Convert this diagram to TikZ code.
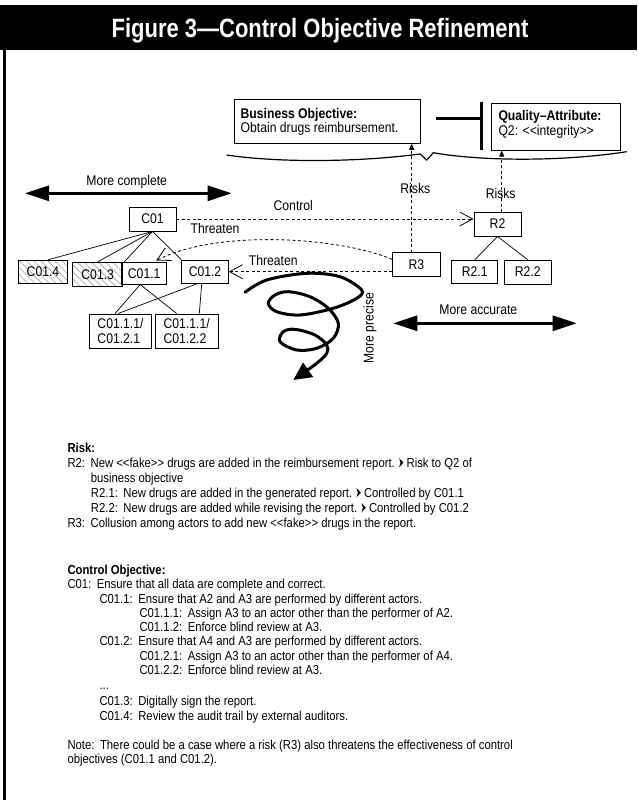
\documentclass[tikz,border=0pt]{standalone}
\usepackage{fontspec}
\setmainfont{Liberation Sans}[FakeStretch=0.87]
\newfontfamily\titlefont{Liberation Sans}[FakeStretch=0.83]
\usetikzlibrary{arrows.meta,patterns.meta}
\newcommand{\rarr}{\tikz[baseline=0pt,x=1pt,y=1pt]\fill (0.4,-0.3)--(4.8,4.3)--(0.4,8.9)--(1.8,4.3)--cycle;}
\newcommand{\gapsp}{\hspace{5.5pt}}
\newcommand{\lt}{\symbol{"3C}}
\newcommand{\gt}{\symbol{"3E}}
\begin{document}
\begin{tikzpicture}[x=1pt,y=-1pt,
  box/.style={draw=black, line width=0.9pt, inner sep=0pt, font=\fontsize{14}{15}\selectfont},
  lbl/.style={font=\fontsize{14}{15}\selectfont, inner sep=0pt},
  bodytxt/.style={font=\fontsize{13}{14.8}\selectfont, anchor=base west, inner sep=0pt},
  dashline/.style={line width=0.8pt, dash pattern=on 3pt off 2.5pt},
  barb/.style={-{Straight Barb[length=13pt,width=14pt,line width=0.8pt]}},
  smalltip/.style={-{Triangle[length=6pt,width=5pt]}},
  bigarrow/.style={line width=3pt, {Triangle[length=24pt,width=15pt]}-{Triangle[length=24pt,width=15pt]}},
  hatch/.style={pattern={Lines[angle=-45,distance=5pt,line width=0.6pt]}, pattern color=gray!75},
]
\useasboundingbox (0,0) rectangle (637,800);
% header band
\fill[black] (0,5) rectangle (637,50);
\node[font=\titlefont\bfseries\fontsize{26.5}{28}\selectfont, text=white, inner sep=0pt, anchor=base] (title) at (320,37.5) {Figure 3—Control Objective Refinement};
\draw[line width=2.7pt] (4.7,50) -- (4.7,800);

% objectives
\node[box, minimum width=186.4pt, minimum height=44pt] (BO) at (327.5,121.3) {};
\node[anchor=base west, inner sep=0pt, font=\bfseries\fontsize{14}{15}\selectfont] (bot1) at (240.5,118) {Business Objective:};
\node[anchor=base west, lbl] (bot2) at (240.5,132.5) {Obtain drugs reimbursement.};
\node[box, minimum width=129pt, minimum height=46.7pt] (QA) at (555.5,126.7) {};
\node[anchor=base west, inner sep=0pt, font=\bfseries\fontsize{14}{15}\selectfont] (qat1) at (498.3,120.5) {Quality–Attribute:};
\node[anchor=base west, lbl] (qat2) at (498.3,135) {Q2: \lt\lt integrity\gt\gt};
\coordinate (bartop) at (481.7,101.5);
\coordinate (barbot) at (481.7,150);
\coordinate (thickstart) at (435.5,118.5);
\draw[line width=3pt] (bartop) -- (barbot);
\draw[line width=3pt] (thickstart) -- (thickstart -| bartop);
% brace
\draw[line width=1.2pt] (226.7,155) .. controls (280,163) and (360,162) .. (420,154) -- (426.7,160) -- (433.3,152.7) .. controls (480,161) and (560,162) .. (626.7,151.7);

% control objective tree
\node[box, minimum width=47pt, minimum height=24pt] (C01) at (152.5,219) {C01};
\node[box, hatch, minimum width=49.4pt, minimum height=23.3pt] (C014) at (43,271.7) {C01.4};
\node[box, hatch, minimum width=50pt, minimum height=24.4pt] (C013) at (97.7,274.5) {C01.3};
\node[box, minimum width=45pt, minimum height=21.7pt] (C011) at (144.2,273.2) {C01.1};
\node[box, minimum width=46.6pt, minimum height=23.3pt] (C012) at (205,271.7) {C01.2};
\node[box, minimum width=62.4pt, minimum height=34pt, align=left] (C0111) at (120.5,331) {C01.1.1/\\C01.2.1};
\node[box, minimum width=63.3pt, minimum height=34pt, align=left] (C0112) at (186.7,331) {C01.1.1/\\C01.2.2};
\draw[line width=0.7pt] (C01.south) -- ([xshift=5pt]C014.north);
\draw[line width=0.7pt] (C01.south) -- (C013.north);
\draw[line width=0.7pt] (C01.south) -- ([xshift=3pt]C011.north west);
\draw[line width=0.7pt] (C01.south) -- (C012.north west);
\draw[line width=0.7pt] ([xshift=-4pt]C011.south) -- ([xshift=-5.5pt]C0111.north);
\draw[line width=0.7pt] ([xshift=-4pt]C011.south) -- ([xshift=-10pt]C0112.north);
\draw[line width=0.7pt] ([xshift=-8pt]C012.south) -- ([xshift=-2.5pt]C0111.north);
\draw[line width=0.7pt] ([xshift=-3.3pt]C012.south) -- ([xshift=12.6pt]C0112.north);

% risk tree
\node[box, minimum width=47pt, minimum height=24pt] (R2) at (497.5,224) {R2};
\node[box, minimum width=47.3pt, minimum height=23.3pt] (R3) at (416.3,264.3) {R3};
\node[box, minimum width=46pt, minimum height=23pt] (R21) at (474.7,271.8) {R2.1};
\node[box, minimum width=47.7pt, minimum height=23.7pt] (R22) at (527.8,272.1) {R2.2};
\draw[line width=0.7pt] (R2.south) -- (R21.north);
\draw[line width=0.7pt] (R2.south) -- (R22.north);

% risks arrows
\coordinate (r3top) at (411.7,252.7);
\coordinate (r2top) at (501.7,212.3);
\draw[dashline, smalltip] (r3top) -- (r3top |- BO.south);
\draw[dashline, smalltip] (r2top) -- (r2top |- QA.south);
\node[lbl] (risks1) at (415.3,188.3) {Risks};
\node[lbl] (risks2) at (500.7,193.3) {Risks};

% control and threaten
\draw[dashline, barb] (C01.east) -- (C01.east -| R2.west);
\node[lbl] (ctl) at (293.3,205) {Control};
\draw[dashline, barb] ([yshift=5pt]R3.west) .. controls (335,236) and (215,230) .. ([xshift=-11pt,yshift=1.3pt]C011.north east);
\node[lbl] (thr1) at (215,228.3) {Threaten};
\draw[dashline, barb] (R3.west |- C012.east) -- (C012.east);
\node[lbl] (thr2) at (273.3,260) {Threaten};

% dimension arrows
\coordinate (mcl) at (25,193.3);
\coordinate (mcr) at (231.7,193.3);
\draw[bigarrow] (mcl) -- (mcr);
\node[lbl] (mctxt) at (126.7,181.7) {More complete};
\coordinate (mal) at (393.3,323.3);
\coordinate (mar) at (576.7,323.3);
\draw[bigarrow] (mal) -- (mar);
\node[lbl] (matxt) at (478.3,310) {More accurate};
\draw[line width=3pt, line cap=round, -{Triangle[length=18pt,width=17pt]}] plot[smooth, tension=0.55] coordinates {
 (245,292.3) (266.7,280) (306.7,273.3) (340,276.7) (361.7,290) (356.7,298.3) (333.3,308.3) (300,315) (276.7,311.7) (268.3,303.3) (275,295) (288.3,291.7) (310,296.7) (328.3,308.3) (338.3,323.3) (333.3,338.3) (316.7,348.3) (296.7,350) (280,341.7) (283.3,331.7) (295,329.3) (315,335) (326.7,345) (326.7,353.3) (316.7,363.3) (293.3,380)};
\node[lbl, rotate=90] (mptxt) at (370,328.3) {More precise};

% text block
\node[bodytxt, font=\bfseries\fontsize{13}{14.8}\selectfont] (l1) at (67.3,452) {Risk:};
\node[bodytxt] (l2) at (67.3,467) {R2:\gapsp New \lt\lt fake\gt\gt\ drugs are added in the reimbursement report. \rarr\ Risk to Q2 of};
\node[bodytxt] (l3) at (90.7,482) {business objective};
\node[bodytxt] (l4) at (90.7,497) {R2.1:\gapsp New drugs are added in the generated report. \rarr\ Controlled by C01.1};
\node[bodytxt] (l5) at (90.7,512) {R2.2:\gapsp New drugs are added while revising the report. \rarr\ Controlled by C01.2};
\node[bodytxt] (l6) at (67.3,527) {R3:\gapsp Collusion among actors to add new \lt\lt fake\gt\gt\ drugs in the report.};
\node[bodytxt, font=\bfseries\fontsize{13}{14.8}\selectfont] (l7) at (67.3,574.5) {Control Objective:};
\node[bodytxt] (l8) at (67.3,588) {C01:\gapsp Ensure that all data are complete and correct.};
\node[bodytxt] (l9) at (99.3,603) {C01.1:\gapsp Ensure that A2 and A3 are performed by different actors.};
\node[bodytxt] (l10) at (139.3,617) {C01.1.1:\gapsp Assign A3 to an actor other than the performer of A2.};
\node[bodytxt] (l11) at (139.3,631) {C01.1.2:\gapsp Enforce blind review at A3.};
\node[bodytxt] (l12) at (99.3,645.5) {C01.2:\gapsp Ensure that A4 and A3 are performed by different actors.};
\node[bodytxt] (l13) at (139.3,660) {C01.2.1:\gapsp Assign A3 to an actor other than the performer of A4.};
\node[bodytxt] (l14) at (139.3,674.5) {C01.2.2:\gapsp Enforce blind review at A3.};
\node[bodytxt] (l15) at (99.3,689) {...};
\node[bodytxt] (l16) at (99.3,705.5) {C01.3:\gapsp Digitally sign the report.};
\node[bodytxt] (l17) at (99.3,720) {C01.4:\gapsp Review the audit trail by external auditors.};
\node[bodytxt] (l18) at (67.3,749.5) {Note:\gapsp There could be a case where a risk (R3) also threatens the effectiveness of control};
\node[bodytxt] (l19) at (67.3,763) {objectives (C01.1 and C01.2).};
\end{tikzpicture}
\end{document}
